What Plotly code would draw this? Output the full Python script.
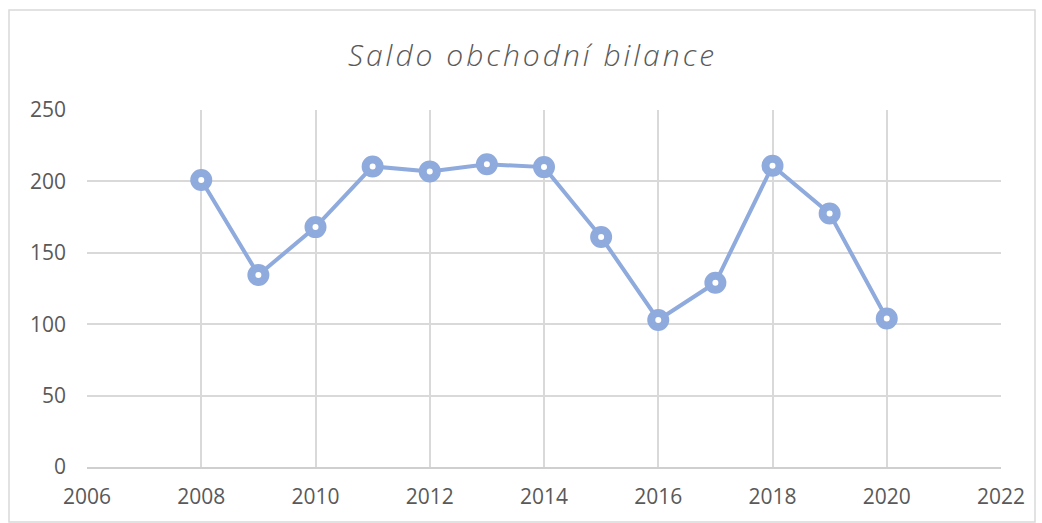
import plotly.graph_objects as go

years = [2008, 2009, 2010, 2011, 2012, 2013, 2014, 2015, 2016, 2017, 2018, 2019, 2020]
saldo = [201, 134.5, 168, 210.5, 207, 212, 210, 161, 103, 129, 211, 177.5, 104]
title_text = "Saldo obchodní bilance"

blue = "rgba(143,170,220,1)"
txt = "#595959"

fig = go.Figure()
fig.add_trace(go.Scatter(
    x=years, y=saldo, mode="lines+markers",
    line=dict(color=blue, width=4),
    marker=dict(symbol="circle", size=14, color="white",
                line=dict(color=blue, width=8)),
    showlegend=False,
))

L, R, T, B = 87, 41, 110, 56
W, H = 1042, 523
pw, ph = W - L - R, H - T - B

spaced = "\u200a".join(list(title_text))

fig.update_layout(
    width=W, height=H,
    margin=dict(l=L, r=R, t=T, b=B),
    paper_bgcolor="white", plot_bgcolor="white",
    title=dict(text="<i>" + spaced + "</i>",
               x=(531) / W, xanchor="center", y=1 - 55 / H, yanchor="middle",
               font=dict(family="Open Sans", size=30, color=txt, weight=300)),
    xaxis=dict(range=[2006, 2022], tickmode="linear", tick0=2006, dtick=2,
               showgrid=True, gridcolor="#d9d9d9", gridwidth=1.5,
               zeroline=False, showline=True, linecolor="#cfcfcf", linewidth=1.5,
               ticks="", ticklabelstandoff=10,
               tickfont=dict(family="Open Sans", size=21, color=txt)),
    yaxis=dict(range=[0, 250], tickmode="linear", dtick=50,
               showgrid=True, gridcolor="#d9d9d9", gridwidth=1.5,
               zeroline=False, showline=False, ticks="", ticklabelstandoff=20,
               tickfont=dict(family="Open Sans", size=21, color=txt)),
    shapes=[dict(type="rect", xref="paper", yref="paper",
                 x0=(9 - L) / pw, x1=(1035 - L) / pw,
                 y0=(H - B - 522) / ph, y1=(H - B - 10) / ph,
                 line=dict(color="#d9d9d9", width=1.5), fillcolor="rgba(0,0,0,0)",
                 layer="below")],
)
fig.write_html("out.html", config={"displayModeBar": False},
               post_script="document.body.style.margin='0';document.body.style.padding='0';")
